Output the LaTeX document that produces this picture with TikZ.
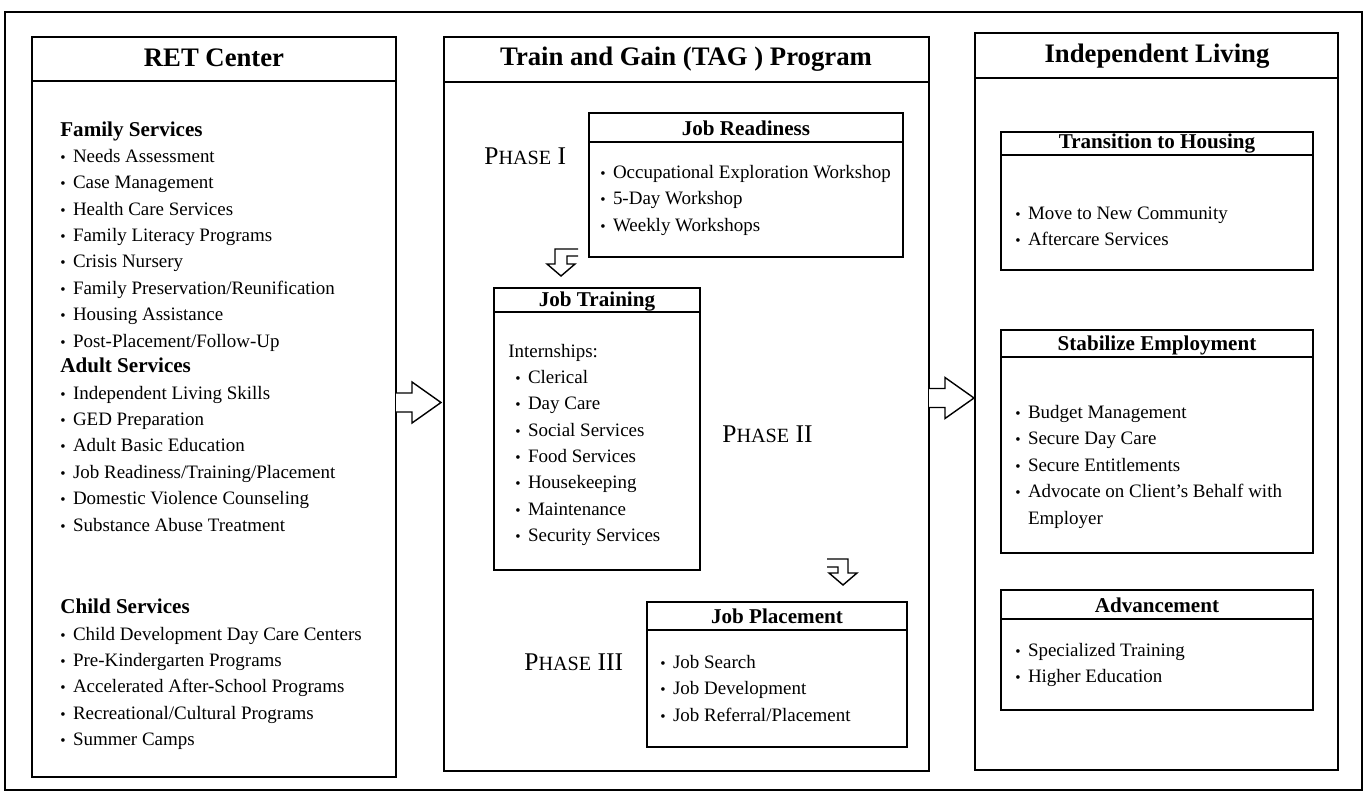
\documentclass[tikz,border=0pt]{standalone}
\usepackage{fontspec}
\setmainfont{Liberation Serif}
\usetikzlibrary{positioning}

\tikzset{
  colhead/.style={anchor=base, font=\fontsize{15.2}{18}\selectfont\bfseries, inner sep=0pt},
  boxhead/.style={anchor=base, font=\fontsize{12}{14}\selectfont\bfseries, inner sep=0pt},
  % lists are placed by the baseline of their last line
  items/.style={anchor=base west, align=left, inner sep=0pt, font=\fontsize{10.8}{15}\selectfont},
  phase/.style={anchor=base west, inner sep=0pt, font=\fontsize{14.5}{16}\selectfont},
  frame/.style={line width=0.9pt},
  blockarrow/.style={line width=0.8pt, fill=white, line join=miter},
}
\newcommand{\bul}{\makebox[7.2pt][l]{\scalebox{0.8}{\textbullet}}}
\newcommand{\sect}[1]{{\fontsize{12}{15}\selectfont\bfseries #1}}
\newcommand{\phasetxt}[1]{P{\fontsize{11.5}{14}\selectfont HASE} #1}
\newcommand{\bigarrow}[1]{\draw[blockarrow] (#1) ++(0,-9.5) -- ++(16,0) -- ++(0,-11) -- ++(29,20.5) -- ++(-29,20.5) -- ++(0,-11) -- ++(-16,0);}

\begin{document}
\begin{tikzpicture}[x=0.02cm, y=-0.02cm]
\useasboundingbox (0,0) rectangle (1366,794);

% outer frame
\draw[frame] (5,12) rectangle (1362,790);

% columns
\draw[frame] (32,37) rectangle (396,777);
\draw[frame] (32,81) -- (396,81);
\draw[frame] (444,37) rectangle (929,771);
\draw[frame] (444,82) -- (929,82);
\draw[frame] (975,33) rectangle (1338,770);
\draw[frame] (975,78) -- (1338,78);

\node[colhead] (ret) at (214,67) {RET Center};
\node[colhead] (tag) at (686,66) {Train and Gain (TAG ) Program};
\node[colhead] (indep) at (1157,63) {Independent Living};

% RET Center
\node[items] (family) at (60,347) {\sect{Family Services}\\
  \bul Needs Assessment\\ \bul Case Management\\ \bul Health Care Services\\
  \bul Family Literacy Programs\\ \bul Crisis Nursery\\
  \bul Family Preservation/Reunification\\ \bul Housing Assistance\\
  \bul Post-Placement/Follow-Up};
\node[items] (adult) at (60,531) {\sect{Adult Services}\\
  \bul Independent Living Skills\\ \bul GED Preparation\\ \bul Adult Basic Education\\
  \bul Job Readiness/Training/Placement\\ \bul Domestic Violence Counseling\\
  \bul Substance Abuse Treatment};
\node[items] (child) at (60,745.5) {\sect{Child Services}\\
  \bul Child Development Day Care Centers\\ \bul Pre-Kindergarten Programs\\
  \bul Accelerated After-School Programs\\ \bul Recreational/Cultural Programs\\
  \bul Summer Camps};

% TAG program
\draw[frame] (589,113) rectangle (903,257);
\draw[frame] (589,142) -- (903,142);
\node[boxhead] (readiness) at (746,135) {Job Readiness};
\node[items] (readlist) at (600,231) {\bul Occupational Exploration Workshop\\
  \bul 5-Day Workshop\\ \bul Weekly Workshops};
\node[phase] (ph1) at (484,165) {\phasetxt{I}};

\draw[frame] (494,288) rectangle (700,570);
\draw[frame] (494,312) -- (700,312);
\node[boxhead] (training) at (597,306) {Job Training};
\node[items] (trainlist) at (508,541.5) {Internships:\\
  \hspace*{4pt}\bul Clerical\\ \hspace*{4pt}\bul Day Care\\ \hspace*{4pt}\bul Social Services\\
  \hspace*{4pt}\bul Food Services\\ \hspace*{4pt}\bul Housekeeping\\
  \hspace*{4pt}\bul Maintenance\\ \hspace*{4pt}\bul Security Services};
\node[phase] (ph2) at (722,442) {\phasetxt{II}};

\draw[frame] (647,602) rectangle (907,747);
\draw[frame] (647,630) -- (907,630);
\node[boxhead] (placement) at (777,623) {Job Placement};
\node[items] (placelist) at (660,721) {\bul Job Search\\ \bul Job Development\\
  \bul Job Referral/Placement};
\node[phase] (ph3) at (524,670) {\phasetxt{III}};

% bent arrows between phases
\draw[blockarrow] (578,249) -- (555,249) -- (555,264) -- (547,264) -- (561,276)
  -- (575,264) -- (567,264) -- (567,256) -- (578,256);
\draw[blockarrow] (827,559) -- (848,559) -- (848,573) -- (857,573) -- (843,585)
  -- (829,573) -- (838,573) -- (838,567) -- (827,567);

% Independent living
\draw[frame] (1001,132) rectangle (1313,270);
\draw[frame] (1001,155) -- (1313,155);
\node[boxhead] (housing) at (1157,149) {Transition to Housing};
\node[items] (houselist) at (1015,245.5) {\bul Move to New Community\\ \bul Aftercare Services};

\draw[frame] (1001,330) rectangle (1313,553);
\draw[frame] (1001,357) -- (1313,357);
\node[boxhead] (stabilize) at (1157,350) {Stabilize Employment};
\node[items] (stablist) at (1015,524) {\bul Budget Management\\ \bul Secure Day Care\\
  \bul Secure Entitlements\\ \bul Advocate on Client’s Behalf with\\
  \hspace*{7.2pt}Employer};

\draw[frame] (1001,590) rectangle (1313,710);
\draw[frame] (1001,619) -- (1313,619);
\node[boxhead] (advance) at (1157,612) {Advancement};
\node[items] (advlist) at (1015,682.5) {\bul Specialized Training\\ \bul Higher Education};

% arrows between columns
\coordinate (a1) at (396,402.5);
\coordinate (a2) at (929,398);
\bigarrow{a1}
\bigarrow{a2}

\end{tikzpicture}
\end{document}
